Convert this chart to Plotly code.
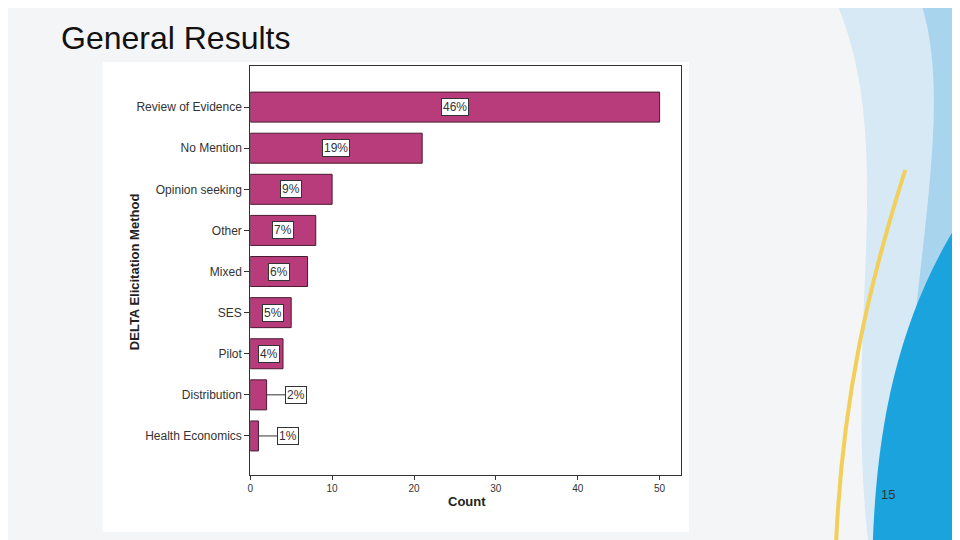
import plotly.graph_objects as go

categories = ["Review of Evidence", "No Mention", "Opinion seeking", "Other", "Mixed",
              "SES", "Pilot", "Distribution", "Health Economics"]
counts = [50, 21, 10, 8, 7, 5, 4, 2, 1]
pct_labels = ["46%", "19%", "9%", "7%", "6%", "5%", "4%", "2%", "1%"]
x_ticks = [0, 10, 20, 30, 40, 50]

W, H = 960, 540
OFF = 8
def px(x): return (x - OFF) / W
def py(y): return 1 - (y - OFF) / H
def cpath(d):
    out = []
    for c in d:
        out.append(c if isinstance(c, str) else f"{px(c[0]):.4f},{py(c[1]):.4f}")
    return " ".join(out)

pos = list(range(len(categories)))
fig = go.Figure()
fig.add_trace(go.Bar(y=pos, x=counts, orientation="h",
                     marker=dict(color="#b83c7b", line=dict(color="#4a1a30", width=1)),
                     width=0.73, hoverinfo="skip"))

font_lbl = dict(family="Liberation Sans", size=12, color="#333")
annotations = []
for p, v, t in zip(pos, counts, pct_labels):
    if v >= 4:
        annotations.append(dict(x=v / 2 if v > 6 else v / 2 + 0.3, y=p, xref="x", yref="y", text=t,
                                showarrow=False, bgcolor="white", bordercolor="#333",
                                borderwidth=1, borderpad=1, font=font_lbl))
    else:
        annotations.append(dict(x=v, y=p, ax=v + 3.6, ay=p, axref="x", ayref="y",
                                xref="x", yref="y", text=t, showarrow=True,
                                arrowhead=0, arrowcolor="#333", arrowwidth=1,
                                bgcolor="white", bordercolor="#333", borderwidth=1, borderpad=1,
                                font=font_lbl))

annotations += [
    dict(x=px(56), y=py(38), xref="paper", yref="paper", text="General Results",
         showarrow=False, xanchor="left", yanchor="middle",
         font=dict(family="Liberation Sans", size=32, color="#111")),
    dict(x=px(897), y=py(504), xref="paper", yref="paper", text="15", showarrow=False,
         font=dict(family="Liberation Sans", size=13, color="#333")),
    dict(x=px(465), y=py(511), xref="paper", yref="paper", text="<b>Count</b>", showarrow=False,
         font=dict(family="Liberation Sans", size=13, color="#222")),
    dict(x=px(122), y=py(272), xref="paper", yref="paper", text="<b>DELTA Elicitation Method</b>",
         showarrow=False, textangle=-90,
         font=dict(family="Liberation Sans", size=13, color="#222")),
]

shapes = [
    dict(type="path", xref="paper", yref="paper", layer="below", line=dict(width=0),
         fillcolor="#d6e9f5",
         path=cpath(["M", (835, 0), "C", (900, 150), (840, 330), (870, 560), "L", (980, 560), "L", (980, 0), "Z"])),
    dict(type="path", xref="paper", yref="paper", layer="below", line=dict(width=0),
         fillcolor="#a9d4ee",
         path=cpath(["M", (920, 0), "C", (960, 120), (900, 300), (900, 560), "L", (980, 560), "L", (980, 0), "Z"])),
    dict(type="path", xref="paper", yref="paper", layer="below", line=dict(color="#f2cf5a", width=4),
         path=cpath(["M", (905, 170), "C", (870, 280), (840, 400), (835, 560)])),
    dict(type="path", xref="paper", yref="paper", layer="below", line=dict(width=0),
         fillcolor="#1aa3dc",
         path=cpath(["M", (980, 190), "C", (900, 300), (875, 420), (872, 560), "L", (980, 560), "Z"])),
    dict(type="rect", xref="paper", yref="paper", layer="below", line=dict(width=0),
         fillcolor="white", x0=px(100), x1=px(688), y0=py(532), y1=py(62)),
]

fig.update_layout(
    width=W, height=H, margin=dict(l=0, r=0, t=0, b=0),
    paper_bgcolor="#f4f5f7", plot_bgcolor="#f0f0f0",
    showlegend=False,
    annotations=annotations, shapes=shapes,
    xaxis=dict(domain=[px(248), px(680)], range=[0, 52.6], tickvals=x_ticks,
               ticks="outside", ticklen=4, tickcolor="#333", showgrid=False, zeroline=False,
               showline=True, linecolor="#333", mirror=True,
               tickfont=dict(family="Liberation Sans", size=10, color="#333")),
    yaxis=dict(domain=[py(475), py(66)], range=[8.95, -1.0], tickvals=pos, ticktext=categories,
               ticks="outside", ticklen=5, tickcolor="#333", showgrid=False, zeroline=False,
               showline=True, linecolor="#333", mirror=True,
               tickfont=dict(family="Liberation Sans", size=12, color="#333")),
)

fig.write_html("out.html")
